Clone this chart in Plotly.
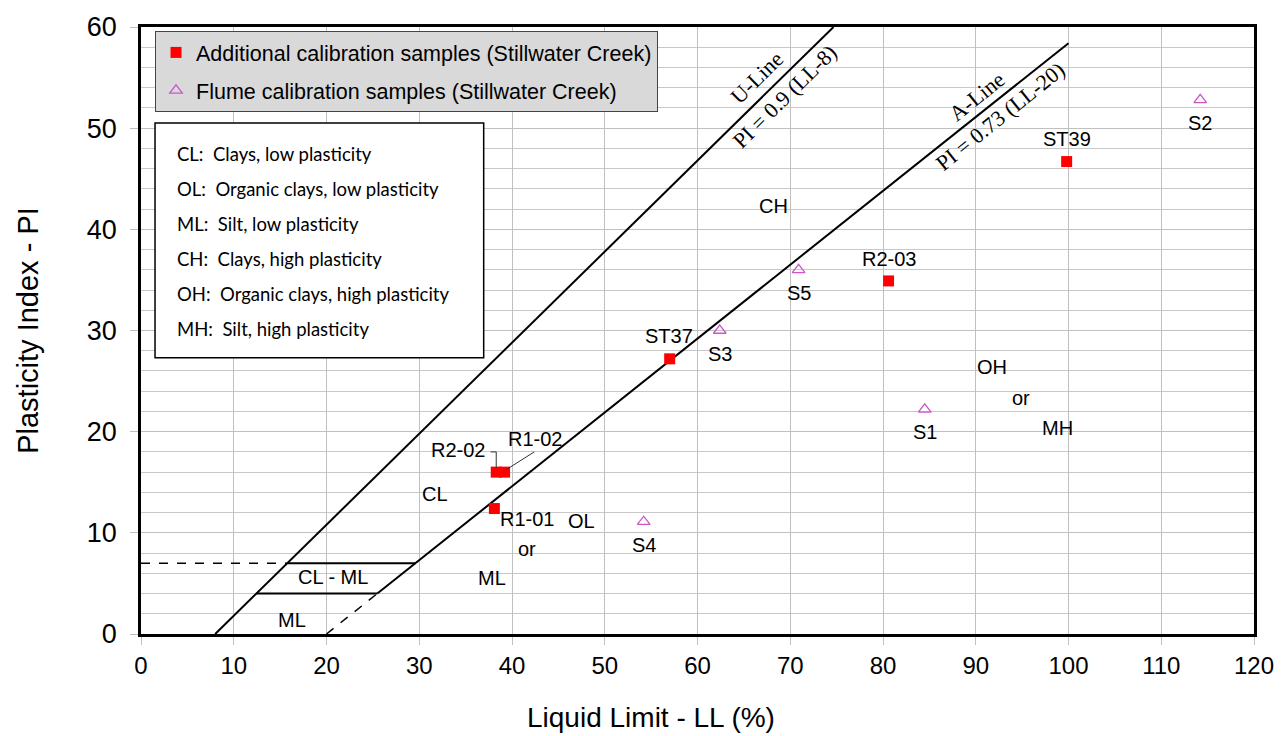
import plotly.graph_objects as go

# Soil samples: liquid limit (LL, %) and plasticity index (PI)
add_names = ["R2-02", "R1-02", "R1-01", "ST37", "R2-03", "ST39"]
add_ll = [38.3, 39.2, 38.1, 57.0, 80.6, 99.8]
add_pi = [16.0, 16.0, 12.4, 27.2, 34.9, 46.7]

flume_names = ["S1", "S2", "S3", "S4", "S5"]
flume_ll = [84.5, 114.2, 62.4, 54.2, 70.9]
flume_pi = [22.2, 52.8, 30.0, 11.1, 36.0]

# Casagrande chart boundaries
U_SLOPE, U_LL0 = 0.9, 8      # PI = 0.9 (LL-8)
A_SLOPE, A_LL0 = 0.73, 20    # PI = 0.73 (LL-20)
PI_TOP = 60
A_LL_END = 100
CLML_PI = [4, 7]

legend_info = [
    "CL:  Clays, low plasticity",
    "OL:  Organic clays, low plasticity",
    "ML:  Silt, low plasticity",
    "CH:  Clays, high plasticity",
    "OH:  Organic clays, high plasticity",
    "MH:  Silt, high plasticity",
]

zone_labels = ["CH", "OH", "or", "MH", "CL", "OL", "or", "ML", "CL - ML", "ML"]
zone_ll = [68.2, 91.7, 94.9, 98.8, 31.7, 47.5, 41.6, 37.8, 20.7, 16.3]
zone_pi = [42.3, 26.4, 23.3, 20.4, 13.8, 11.2, 8.4, 5.5, 5.6, 1.4]


def u_ll(pi):
    return pi / U_SLOPE + U_LL0


def a_ll(pi):
    return pi / A_SLOPE + A_LL0


def a_pi(ll):
    return A_SLOPE * (ll - A_LL0)


SANS = "Liberation Sans, Arial, sans-serif"
SERIF = "Liberation Serif, Times New Roman, serif"

fig = go.Figure()

line_style = dict(color="black", width=2)
dash_style = dict(color="black", width=1.5, dash="dash")

# U-line
fig.add_trace(go.Scatter(x=[U_LL0, u_ll(PI_TOP)], y=[0, PI_TOP], mode="lines",
                         line=line_style, showlegend=False, hoverinfo="skip"))
# A-line: dashed below PI = 4, solid above
fig.add_trace(go.Scatter(x=[A_LL0, a_ll(CLML_PI[0])], y=[0, CLML_PI[0]], mode="lines",
                         line=dash_style, showlegend=False, hoverinfo="skip"))
fig.add_trace(go.Scatter(x=[a_ll(CLML_PI[0]), A_LL_END], y=[CLML_PI[0], a_pi(A_LL_END)],
                         mode="lines", line=line_style, showlegend=False, hoverinfo="skip"))
# CL-ML band
fig.add_trace(go.Scatter(x=[0, u_ll(CLML_PI[1])], y=[CLML_PI[1], CLML_PI[1]], mode="lines",
                         line=dash_style, showlegend=False, hoverinfo="skip"))
fig.add_trace(go.Scatter(x=[u_ll(CLML_PI[1]), a_ll(CLML_PI[1])], y=[CLML_PI[1], CLML_PI[1]],
                         mode="lines", line=line_style, showlegend=False, hoverinfo="skip"))
fig.add_trace(go.Scatter(x=[u_ll(CLML_PI[0]), a_ll(CLML_PI[0])], y=[CLML_PI[0], CLML_PI[0]],
                         mode="lines", line=line_style, showlegend=False, hoverinfo="skip"))

# Sample points
fig.add_trace(go.Scatter(
    x=add_ll, y=add_pi, mode="markers", name="Additional calibration samples (Stillwater Creek)",
    marker=dict(symbol="square", size=11, color="#ff0000"), legendgroup="a"))
fig.add_trace(go.Scatter(
    x=flume_ll, y=flume_pi, mode="markers", name="Flume calibration samples (Stillwater Creek)",
    marker=dict(symbol="triangle-up-open", size=11, color="#cc55cc", line=dict(width=1.3)),
    legendgroup="f"))

ann = []
label_font = dict(family=SANS, size=20, color="black")

# point labels, offset in pixels from each sample
add_shift = {"R2-02": (-38, 22), "R1-02": (30, 33), "R1-01": (33, -10),
             "ST37": (-1, 23), "R2-03": (0, 22), "ST39": (0, 23)}
for n, x, y in zip(add_names, add_ll, add_pi):
    dx, dy = add_shift[n]
    ann.append(dict(x=x, y=y, xref="x", yref="y", text=n, showarrow=False,
                    xshift=dx, yshift=dy, font=label_font))
for n, x, y in zip(flume_names, flume_ll, flume_pi):
    ann.append(dict(x=x, y=y, xref="x", yref="y", text=n, showarrow=False,
                    xshift=0, yshift=-23, font=label_font))

# zone labels
for t, x, y in zip(zone_labels, zone_ll, zone_pi):
    ann.append(dict(x=x, y=y, xref="x", yref="y", text=t, showarrow=False, font=label_font))

# rotated line labels
line_font = dict(family=SERIF, size=22, color="black")
ann += [
    dict(x=66.4, y=55.0, xref="x", yref="y", text="U-Line", showarrow=False,
         textangle=-44.7, font=line_font),
    dict(x=69.4, y=53.1, xref="x", yref="y", text="PI = 0.9 (LL-8)", showarrow=False,
         textangle=-44.7, font=line_font),
    dict(x=90.1, y=53.15, xref="x", yref="y", text="A-Line", showarrow=False,
         textangle=-38.8, font=line_font),
    dict(x=92.6, y=51.2, xref="x", yref="y", text="PI = 0.73 (LL-20)", showarrow=False,
         textangle=-38.8, font=line_font),
]

# classification key box
for i, t in enumerate(legend_info):
    ann.append(dict(x=0.0305, y=0.8418 - (31 + 35.4 * i) / 613, xref="paper", yref="paper",
                    text=t, showarrow=False, xanchor="left", yanchor="middle",
                    font=dict(family="Lato, Noto Sans, sans-serif", size=18.5, color="black")))

# x axis title
ann.append(dict(x=0.458, y=-84 / 613, xref="paper", yref="paper", text="Liquid Limit - LL (%)",
                showarrow=False, xanchor="center", yanchor="middle",
                font=dict(family=SANS, size=28, color="black")))

shapes = [
    dict(type="rect", xref="paper", yref="paper", x0=0.0126, x1=0.3079, y0=0.4551, y1=0.8418,
         fillcolor="white", line=dict(color="black", width=1.5), layer="above"),
    # leader lines for the overlapping R2-02 / R1-02 points
    dict(type="path", xref="x", yref="y",
         path=f"M {add_ll[0] - 0.6},{add_pi[0] + 2.0} L {add_ll[0]},{add_pi[0] + 2.0} L {add_ll[0]},{add_pi[0] + 0.4}",
         line=dict(color="#333333", width=1)),
    dict(type="line", xref="x", yref="y", x0=add_ll[1] + 0.1, y0=add_pi[1] + 0.2,
         x1=add_ll[1] + 3.2, y1=add_pi[1] + 2.0, line=dict(color="#333333", width=1)),
]

fig.update_layout(
    width=1286, height=736,
    margin=dict(l=141, r=31, t=21, b=102),
    paper_bgcolor="white", plot_bgcolor="white",
    font=dict(family=SANS, color="black"),
    annotations=ann, shapes=shapes,
    legend=dict(x=0.0126, y=0.9935, xanchor="left", yanchor="top",
                bgcolor="#d9d9d9", bordercolor="#444444", borderwidth=1,
                font=dict(family=SANS, size=21.5, color="black"),
                tracegroupgap=7, itemwidth=30),
    showlegend=True,
)
fig.update_xaxes(
    range=[0, 120], dtick=10, tick0=0, showgrid=True, gridcolor="#c0c0c0", gridwidth=1,
    showline=True, linecolor="black", linewidth=2.5, mirror=True,
    ticks="outside", ticklen=8, tickcolor="#c0c0c0",
    tickfont=dict(family=SANS, size=24), zeroline=False,
)
fig.update_yaxes(
    range=[0, 60], dtick=10, tick0=0, showgrid=True, gridcolor="#c0c0c0", gridwidth=1,
    minor=dict(dtick=2, showgrid=True, gridcolor="#c8c8c8", gridwidth=1),
    showline=True, linecolor="black", linewidth=2.5, mirror=True,
    ticks="outside", ticklen=8, tickcolor="#c0c0c0", ticklabelstandoff=8,
    tickfont=dict(family=SANS, size=27), zeroline=False,
    title=dict(text="Plasticity Index - PI", font=dict(family=SANS, size=29), standoff=40),
)

fig.write_html("out.html")
